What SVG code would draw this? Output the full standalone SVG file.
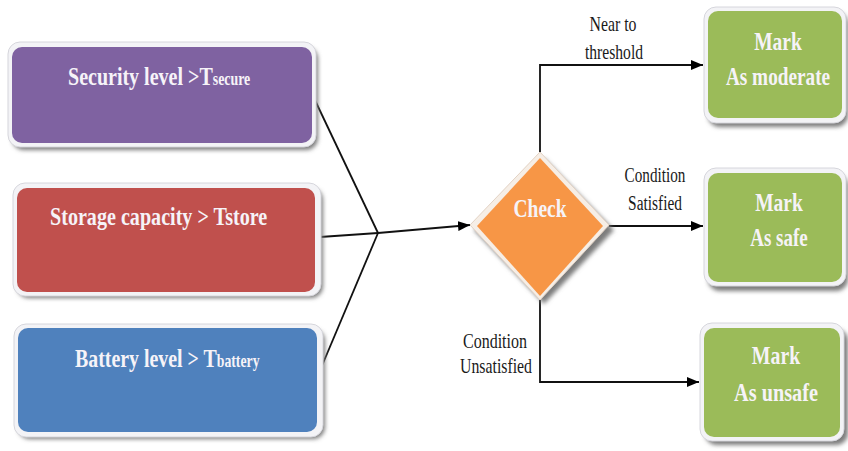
<svg xmlns="http://www.w3.org/2000/svg" width="848" height="451" viewBox="0 0 848 451">
  <style>
    .frame { fill: #f3f3f6; stroke: #d6d6dc; stroke-width: 1; }
    .shadow { fill: #7d7d7d; filter: url(#soft); }
    .big { font-family: "Liberation Serif", "Times New Roman", serif; font-weight: bold; font-size: 26px; fill: #f6f3f8; }
    .mid { text-anchor: middle; }
    .lab { font-family: "Liberation Serif", "Times New Roman", serif; font-size: 20px; fill: #1a1a1a; text-anchor: middle; }
    .wire { fill: none; stroke: #111; stroke-width: 1.8; }
  </style>
  <defs>
    <filter id="soft" x="-10%" y="-10%" width="120%" height="130%">
      <feGaussianBlur stdDeviation="2"/>
    </filter>
    <marker id="tri" viewBox="0 0 12 10" refX="12" refY="5" markerWidth="12" markerHeight="10" markerUnits="userSpaceOnUse" orient="auto">
      <path d="M0,0 L12,5 L0,10 z" fill="#000"/>
    </marker>
  </defs>

  <rect width="848" height="451" fill="#ffffff"/>

  <!-- connectors -->
  <g id="connectors">
    <line class="wire" x1="313" y1="96" x2="378" y2="233"/>
    <line class="wire" x1="321" y1="368" x2="378" y2="233"/>
    <polyline class="wire" points="320,237 378,233 470,225" marker-end="url(#tri)"/>
    <polyline class="wire" points="540,155 540,65 703,65" marker-end="url(#tri)"/>
    <line class="wire" x1="609" y1="226" x2="703" y2="226" marker-end="url(#tri)"/>
    <polyline class="wire" points="540,297 540,382 699,382" marker-end="url(#tri)"/>
  </g>

  <!-- connector labels -->
  <g id="labels">
    <text class="lab" transform="translate(613,31) scale(0.79,1)">Near to</text>
    <text class="lab" transform="translate(614,59) scale(0.78,1)">threshold</text>
    <text class="lab" transform="translate(655,182) scale(0.76,1)">Condition</text>
    <text class="lab" transform="translate(655,210) scale(0.77,1)">Satisfied</text>
    <text class="lab" transform="translate(495,348) scale(0.8,1)">Condition</text>
    <text class="lab" transform="translate(496,373) scale(0.79,1)">Unsatisfied</text>
  </g>

  <!-- input conditions -->
  <g id="security">
    <rect class="shadow" x="12" y="47" width="306" height="103" rx="12"/>
    <rect class="frame" x="8" y="42" width="308" height="105" rx="12"/>
    <rect x="12" y="47" width="300" height="96" rx="10" fill="#7f62a1"/>
    <text class="big" transform="translate(68,85) scale(0.77,1)">Security level &gt;T<tspan font-size="18">secure</tspan></text>
  </g>

  <g id="storage">
    <rect class="shadow" x="17" y="188" width="306" height="110" rx="12"/>
    <rect class="frame" x="13" y="183" width="308" height="113" rx="12"/>
    <rect x="17" y="188" width="298" height="104" rx="10" fill="#c0504d"/>
    <text class="big" transform="translate(50,225) scale(0.774,1)">Storage capacity &gt; Tstore</text>
  </g>

  <g id="battery">
    <rect class="shadow" x="18" y="329" width="307" height="110" rx="12"/>
    <rect class="frame" x="14" y="324" width="309" height="113" rx="12"/>
    <rect x="18" y="328" width="299" height="104" rx="10" fill="#4f81bd"/>
    <text class="big" transform="translate(75,367) scale(0.765,1)">Battery level &gt; T<tspan font-size="18">battery</tspan></text>
  </g>

  <!-- decision -->
  <g id="check">
    <polygon class="shadow" points="544,158 614,230 544,304 474,230"/>
    <polygon points="540,152 609,225 540,300 470,225" fill="#f6eee6" stroke="#e2d2c4" stroke-width="1"/>
    <polygon points="540,158 603,226 540,296 477,226" fill="#f79646"/>
    <text class="big mid" font-size="23" transform="translate(540,217) scale(0.75,1)" fill="#fff6e6">Check</text>
  </g>

  <!-- outcomes -->
  <g id="moderate">
    <rect class="shadow" x="708" y="12" width="140" height="115" rx="12"/>
    <rect class="frame" x="704" y="7" width="142" height="116" rx="12"/>
    <rect x="708" y="11" width="134" height="107" rx="10" fill="#9bbb59"/>
    <text class="big mid" transform="translate(778,50) scale(0.75,1)">Mark</text>
    <text class="big mid" transform="translate(778,85) scale(0.74,1)">As moderate</text>
  </g>

  <g id="safe">
    <rect class="shadow" x="708" y="174" width="140" height="117" rx="12"/>
    <rect class="frame" x="704" y="168" width="142" height="118" rx="12"/>
    <rect x="708" y="173" width="134" height="109" rx="10" fill="#9bbb59"/>
    <text class="big mid" transform="translate(779,211) scale(0.75,1)">Mark</text>
    <text class="big mid" transform="translate(779,246) scale(0.73,1)">As safe</text>
  </g>

  <g id="unsafe">
    <rect class="shadow" x="705" y="329" width="143" height="116" rx="12"/>
    <rect class="frame" x="700" y="323" width="144" height="118" rx="12"/>
    <rect x="704" y="328" width="136" height="109" rx="10" fill="#9bbb59"/>
    <text class="big mid" transform="translate(776,364) scale(0.76,1)">Mark</text>
    <text class="big mid" transform="translate(776,401) scale(0.78,1)">As unsafe</text>
  </g>
</svg>
